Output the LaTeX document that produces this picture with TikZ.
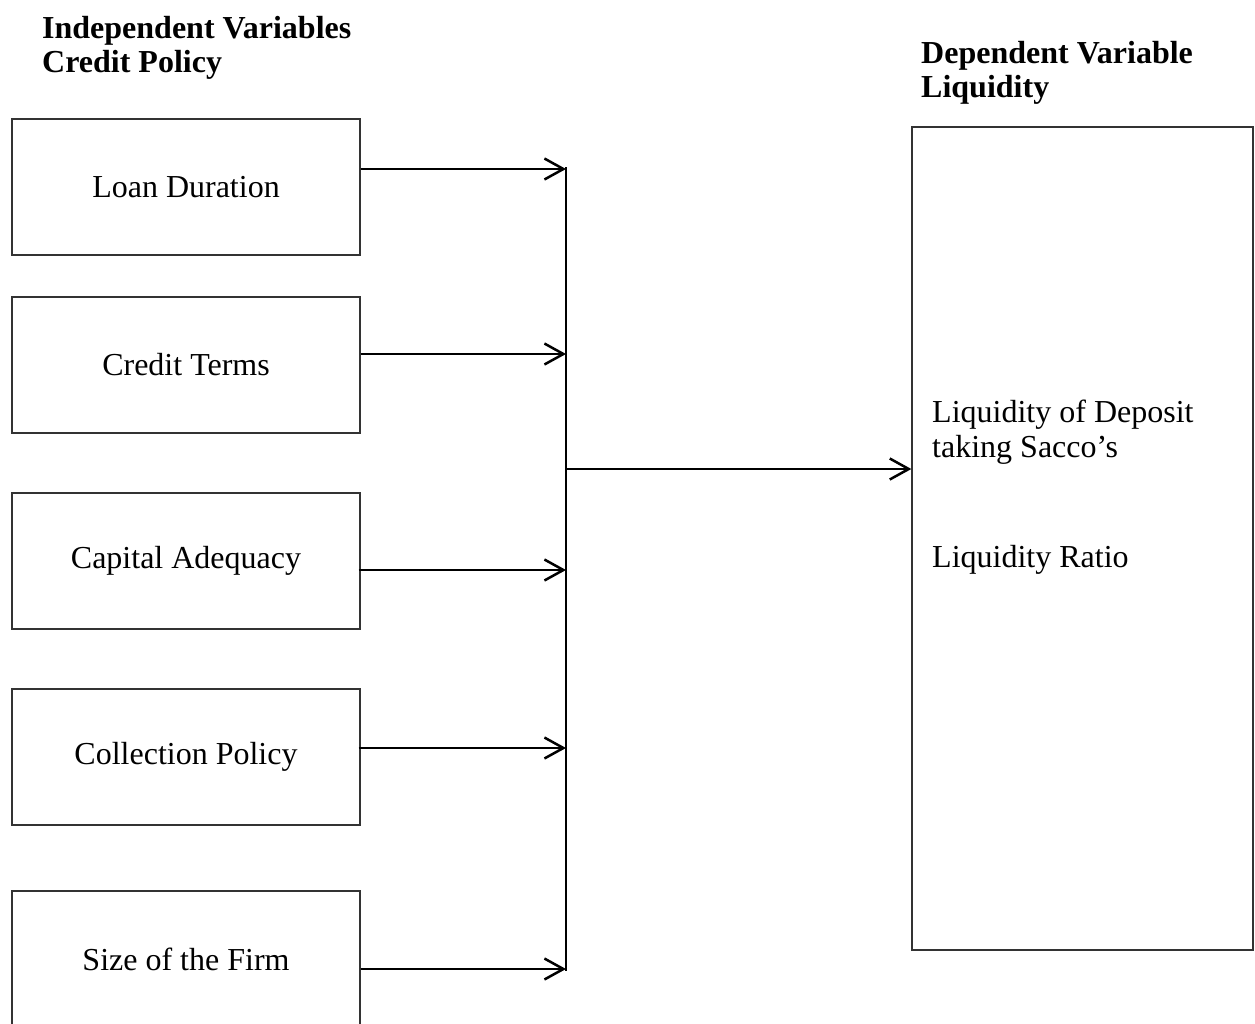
\documentclass[tikz,border=0pt]{standalone}
\usepackage{fontspec}
\setmainfont{Liberation Serif}
\usetikzlibrary{arrows.meta}
\begin{document}
\begin{tikzpicture}[x=1pt,y=-1pt,
  varbox/.style={draw=black!80,line width=1.3pt,rectangle,minimum width=348pt,minimum height=136pt,inner sep=0pt,font=\fontsize{32}{36}\selectfont},
  head/.style={anchor=base west,inner sep=0pt,font=\fontsize{32}{36}\selectfont\bfseries},
  txt/.style={anchor=base west,inner sep=0pt,font=\fontsize{32}{36}\selectfont},
  conn/.style={line width=2.5pt,-{Straight Barb[length=19pt,width=21pt,line width=2.5pt]}},
  bus/.style={line width=2.5pt}]
\useasboundingbox (0,0) rectangle (1255,1023);
\clip (0,0) rectangle (1255,1023);
\fill[white] (0,0) rectangle (1255,1023);
% headings
\node[head] (h1) at (42,38) {Independent Variables};
\node[head] (h2) at (42,72) {Credit Policy};
\node[head] (h3) at (921,63) {Dependent Variable};
\node[head] (h4) at (921,97) {Liquidity};
% left boxes
\node[varbox] (b1) at (186,187) {\raisebox{-3pt}{Loan Duration}};
\node[varbox] (b2) at (186,365) {\raisebox{-3pt}{Credit Terms}};
\node[varbox] (b3) at (186,561) {\raisebox{-3pt}{Capital Adequacy}};
\node[varbox] (b4) at (186,757) {\raisebox{-3pt}{Collection Policy}};
\node[varbox] (b5) at (186,959) {\raisebox{-3pt}{Size of the Firm}};
% right box
\node[draw=black!80,line width=1.3pt,rectangle,minimum width=341pt,minimum height=823pt,inner sep=0pt] (r) at (1082.5,538.5) {};
\node[txt] (t1) at (932,422) {Liquidity of Deposit};
\node[txt] (t2) at (932,457) {taking Sacco’s};
\node[txt] (t3) at (932,567) {Liquidity Ratio};
% bus coordinates
\coordinate (c1) at (566,169);
\coordinate (c2) at (566,354);
\coordinate (c3) at (566,570);
\coordinate (c4) at (566,748);
\coordinate (c5) at (566,969);
\coordinate (cm) at (566,469);
\coordinate (ctop) at (566,167);
\coordinate (cbot) at (566,971);
\draw[bus] (ctop) -- (cbot);
\draw[conn] (b1.east |- c1) -- (c1);
\draw[conn] (b2.east |- c2) -- (c2);
\draw[conn] ([xshift=-2pt]b3.east |- c3) -- (c3);
\draw[conn] ([xshift=-2pt]b4.east |- c4) -- (c4);
\draw[conn] (b5.east |- c5) -- (c5);
\draw[conn] (cm) -- (r.west |- cm);
\end{tikzpicture}
\end{document}
